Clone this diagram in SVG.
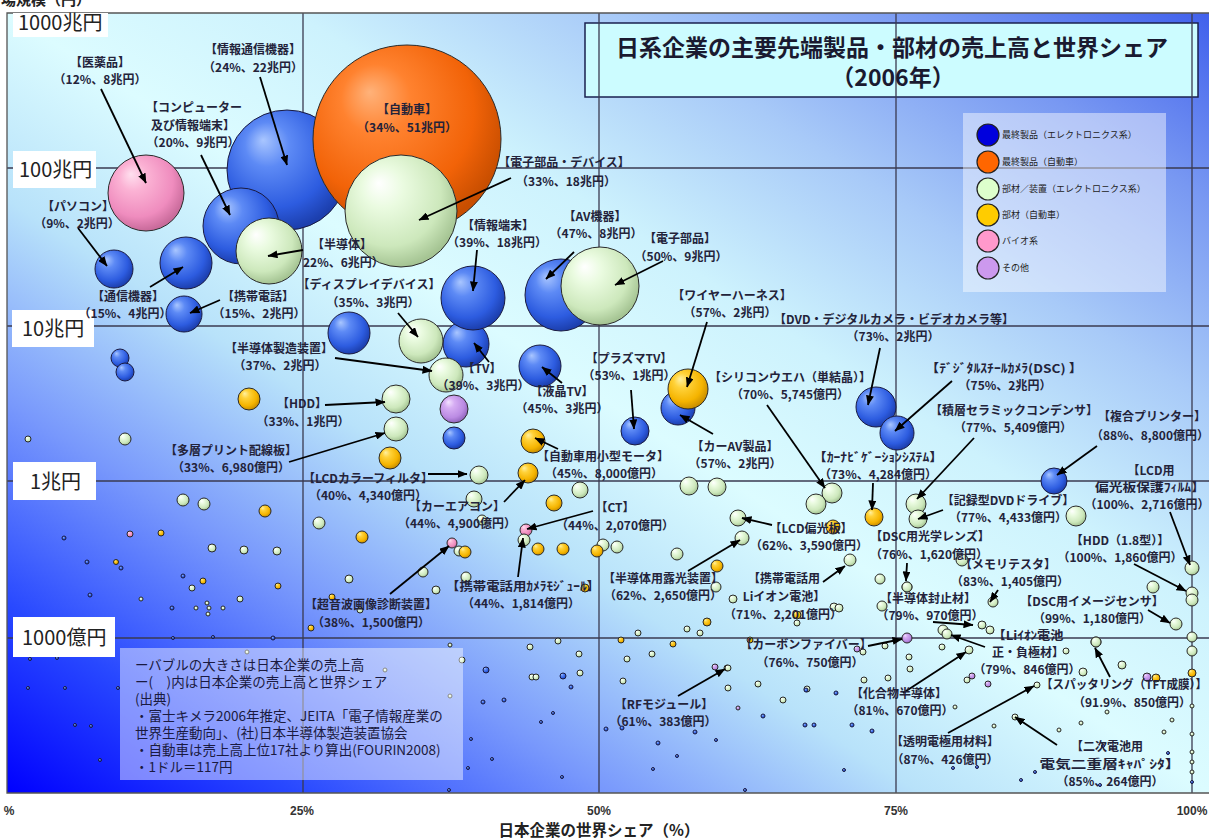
<svg xmlns="http://www.w3.org/2000/svg" width="1209" height="839" viewBox="0 0 1209 839">
<defs>
<linearGradient id="bg" x1="0" y1="1" x2="1" y2="0">
<stop offset="0" stop-color="#0000ff"/>
<stop offset="0.12" stop-color="#2848ff"/>
<stop offset="0.25" stop-color="#7898fc"/>
<stop offset="0.38" stop-color="#b8e2fa"/>
<stop offset="0.5" stop-color="#dcfcff"/>
<stop offset="0.62" stop-color="#cdf2fd"/>
<stop offset="0.75" stop-color="#a8caf8"/>
<stop offset="0.88" stop-color="#7898f2"/>
<stop offset="1" stop-color="#4060ec"/>
</linearGradient>
<radialGradient id="gB" cx="0.42" cy="0.38" r="0.62" fx="0.3" fy="0.25"><stop offset="0" stop-color="#a9c6ff"/><stop offset="0.3" stop-color="#5d8af5"/><stop offset="0.75" stop-color="#2d5ce0"/><stop offset="1" stop-color="#1c3fae"/></radialGradient>
<radialGradient id="gO" cx="0.42" cy="0.38" r="0.62" fx="0.3" fy="0.25"><stop offset="0" stop-color="#ffb27a"/><stop offset="0.3" stop-color="#ff822f"/><stop offset="0.75" stop-color="#f26308"/><stop offset="1" stop-color="#c84e00"/></radialGradient>
<radialGradient id="gG" cx="0.42" cy="0.38" r="0.62" fx="0.3" fy="0.25"><stop offset="0" stop-color="#ffffff"/><stop offset="0.3" stop-color="#eafbe0"/><stop offset="0.75" stop-color="#cde8bc"/><stop offset="1" stop-color="#a5c493"/></radialGradient>
<radialGradient id="gY" cx="0.42" cy="0.38" r="0.62" fx="0.3" fy="0.25"><stop offset="0" stop-color="#fff0a0"/><stop offset="0.3" stop-color="#ffd23a"/><stop offset="0.75" stop-color="#f5b400"/><stop offset="1" stop-color="#c98f00"/></radialGradient>
<radialGradient id="gP" cx="0.42" cy="0.38" r="0.62" fx="0.3" fy="0.25"><stop offset="0" stop-color="#ffe0ef"/><stop offset="0.3" stop-color="#fbb2d4"/><stop offset="0.75" stop-color="#ef8cbe"/><stop offset="1" stop-color="#c86a9a"/></radialGradient>
<radialGradient id="gV" cx="0.42" cy="0.38" r="0.62" fx="0.3" fy="0.25"><stop offset="0" stop-color="#f3e2ff"/><stop offset="0.3" stop-color="#d6adf3"/><stop offset="0.75" stop-color="#bb8be3"/><stop offset="1" stop-color="#9365bf"/></radialGradient>
<marker id="ah" viewBox="0 0 10 8" refX="9.5" refY="4" markerWidth="10" markerHeight="8" markerUnits="userSpaceOnUse" orient="auto"><path d="M0,0 L10,4 L0,8 z" fill="#000"/></marker>
<style>
.b{fill:url(#gB);stroke:#1a1a40;stroke-width:1}
.o{fill:url(#gO);stroke:#2a2a2a;stroke-width:1}
.g{fill:url(#gG);stroke:#2a2a2a;stroke-width:1}
.y{fill:url(#gY);stroke:#2a2a2a;stroke-width:1}
.p{fill:url(#gP);stroke:#2a2a2a;stroke-width:1}
.v{fill:url(#gV);stroke:#2a2a2a;stroke-width:1}
.grid{stroke:#3a3a50;stroke-width:1.3;fill:none}
.ar{stroke:#000;stroke-width:1.8;fill:none;marker-end:url(#ah)}
.lb{font-family:'Noto Sans CJK JP','Noto Sans CJK SC',sans-serif;font-size:12px;font-weight:bold;fill:#23233a;text-anchor:middle}
.st{text-anchor:start}
.ax{font-family:'Noto Sans CJK JP',sans-serif;font-size:20px;fill:#222}
.tk{font-family:'Liberation Sans','Noto Sans CJK JP',sans-serif;font-size:12px;font-weight:bold;fill:#333;text-anchor:middle}
.lg{font-family:'Noto Sans CJK JP',sans-serif;font-size:9px;fill:#222}
.nt{font-family:'Noto Sans CJK JP',sans-serif;font-size:13.5px;fill:#1a1a40}
</style>
</defs>
<rect x="0" y="0" width="1209" height="839" fill="#ffffff"/>
<rect x="7" y="13" width="1202" height="780" fill="url(#bg)"/>
<text x="-14" y="5" font-family="'Noto Sans CJK JP',sans-serif" font-size="15" font-weight="bold" fill="#222">市場規模（円）</text>

<g id="title">
<rect x="585" y="23" width="613" height="74" fill="#ccfcff" stroke="#1a2050" stroke-width="1.5"/>
</g>

<g id="gridlines">
<line class="grid" x1="303" y1="13" x2="303" y2="793"/>
<line class="grid" x1="599" y1="13" x2="599" y2="793"/>
<line class="grid" x1="896" y1="13" x2="896" y2="793"/>
<line class="grid" x1="1192" y1="13" x2="1192" y2="793"/>
<line class="grid" x1="7" y1="168" x2="1209" y2="168"/>
<line class="grid" x1="7" y1="326" x2="1209" y2="326"/>
<line class="grid" x1="7" y1="481" x2="1209" y2="481"/>
<line class="grid" x1="7" y1="638" x2="1209" y2="638"/>
<path d="M1209,13 H7 V793 H1209" stroke="#555" stroke-width="1.3" fill="none"/>
</g>

<g id="small-dots">
<circle class="g" cx="28" cy="439" r="3"/><circle class="g" cx="125" cy="439" r="6"/>
<circle class="g" cx="183" cy="500" r="6"/><circle class="g" cx="204" cy="504" r="6"/><circle class="y" cx="265" cy="511" r="6"/><circle class="g" cx="319" cy="523" r="6"/><circle class="y" cx="362" cy="537" r="6"/>
<circle class="b" cx="64" cy="538" r="2"/><circle class="p" cx="130" cy="534" r="3"/><circle class="y" cx="161" cy="533" r="3"/>
<circle class="g" cx="212" cy="548" r="4"/><circle class="g" cx="244" cy="550" r="4"/><circle class="g" cx="277" cy="551" r="4"/>
<circle class="b" cx="87" cy="562" r="2"/><circle class="y" cx="116" cy="562" r="2.5"/><circle class="b" cx="121" cy="568" r="2"/>
<circle class="b" cx="183" cy="576" r="2"/><circle class="g" cx="192" cy="588" r="3"/><circle class="y" cx="203" cy="581" r="3"/><circle class="y" cx="278" cy="586" r="3"/><circle class="g" cx="240" cy="599" r="3"/>
<circle class="g" cx="207" cy="603" r="2"/><circle class="g" cx="209" cy="608" r="2"/><circle class="g" cx="196" cy="608" r="2"/><circle class="g" cx="208" cy="614" r="2"/><circle class="g" cx="223" cy="608" r="2"/>
<circle class="g" cx="349" cy="579" r="4"/><circle class="y" cx="332" cy="597" r="3"/><circle class="g" cx="360" cy="610" r="3"/><circle class="y" cx="311" cy="628" r="3"/>
<circle class="g" cx="423" cy="572" r="5"/><circle class="g" cx="436" cy="590" r="4"/><circle class="g" cx="466" cy="577" r="5"/>
<circle class="b" cx="90" cy="595" r="2"/><circle class="g" cx="141" cy="599" r="2"/><circle class="b" cx="172" cy="608" r="2"/>
<circle class="b" cx="173" cy="638" r="1.5"/><circle class="b" cx="213" cy="637" r="1.5"/><circle class="b" cx="273" cy="638" r="2"/>
<circle class="b" cx="30" cy="659" r="1.5"/><circle class="b" cx="57" cy="658" r="1.5"/><circle class="b" cx="28" cy="688" r="1.5"/><circle class="b" cx="65" cy="688" r="1.5"/><circle class="b" cx="118" cy="688" r="1.5"/><circle class="b" cx="75" cy="725" r="1.5"/><circle class="b" cx="91" cy="726" r="1.5"/><circle class="b" cx="158" cy="745" r="1.5"/><circle class="b" cx="100" cy="760" r="1.5"/>
<circle class="g" cx="247" cy="652" r="2"/><circle class="g" cx="385" cy="670" r="2"/><circle class="g" cx="450" cy="645" r="2"/>
<circle class="g" cx="530" cy="647" r="3"/><circle class="g" cx="558" cy="641" r="3"/><circle class="g" cx="462" cy="660" r="3"/><circle class="b" cx="486" cy="670" r="3"/><circle class="g" cx="532" cy="677" r="3"/><circle class="g" cx="536" cy="677" r="3"/><circle class="b" cx="563" cy="676" r="3"/><circle class="g" cx="579" cy="654" r="3"/><circle class="g" cx="580" cy="673" r="3"/><circle class="b" cx="571" cy="687" r="2"/><circle class="b" cx="483" cy="702" r="2"/><circle class="b" cx="504" cy="700" r="2"/><circle class="g" cx="450" cy="696" r="2"/><circle class="b" cx="553" cy="713" r="1.5"/><circle class="b" cx="541" cy="722" r="1.5"/><circle class="b" cx="471" cy="739" r="1.5"/><circle class="b" cx="492" cy="759" r="1.5"/><circle class="b" cx="562" cy="777" r="1.5"/><circle class="b" cx="468" cy="768" r="1.5"/><circle class="b" cx="449" cy="790" r="1.5"/>
<circle class="g" cx="627" cy="659" r="3"/><circle class="g" cx="652" cy="654" r="3"/><circle class="g" cx="623" cy="681" r="3"/><circle class="v" cx="715" cy="667" r="3"/><circle class="g" cx="727" cy="668" r="3"/><circle class="g" cx="728" cy="688" r="3"/><circle class="g" cx="758" cy="684" r="3"/><circle class="v" cx="738" cy="708" r="2"/><circle class="b" cx="763" cy="716" r="2"/><circle class="g" cx="783" cy="700" r="3"/><circle class="g" cx="807" cy="689" r="3"/><circle class="b" cx="805" cy="725" r="2"/><circle class="b" cx="606" cy="729" r="2"/><circle class="b" cx="622" cy="728" r="2"/><circle class="b" cx="658" cy="743" r="2"/><circle class="b" cx="695" cy="732" r="2"/><circle class="b" cx="716" cy="740" r="1.5"/><circle class="b" cx="677" cy="756" r="1.5"/><circle class="b" cx="653" cy="769" r="1.5"/><circle class="b" cx="745" cy="790" r="1.5"/>
<circle class="y" cx="707" cy="622" r="4"/><circle class="g" cx="687" cy="629" r="3"/><circle class="g" cx="700" cy="633" r="3"/><circle class="g" cx="638" cy="633" r="3"/><circle class="y" cx="621" cy="640" r="3"/><circle class="y" cx="673" cy="644" r="3"/><circle class="y" cx="750" cy="640" r="3"/>
<circle class="g" cx="677" cy="554" r="6"/><circle class="y" cx="717" cy="566" r="6"/><circle class="g" cx="716" cy="587" r="5"/><circle class="g" cx="733" cy="599" r="4"/><circle class="y" cx="797" cy="615" r="4"/><circle class="g" cx="797" cy="623" r="3"/><circle class="g" cx="834" cy="607" r="4"/><circle class="g" cx="839" cy="608" r="4"/><circle class="g" cx="880" cy="579" r="5"/><circle class="g" cx="907" cy="587" r="5"/><circle class="g" cx="882" cy="606" r="5"/><circle class="g" cx="962" cy="560" r="6"/>
<circle class="g" cx="1153" cy="587" r="6"/><circle class="g" cx="1096" cy="642" r="5"/><circle class="g" cx="1192" cy="637" r="5"/><circle class="g" cx="1192" cy="651" r="5"/>
<circle class="g" cx="942" cy="647" r="3"/><circle class="g" cx="1066" cy="651" r="3"/><circle class="g" cx="885" cy="646" r="3"/><circle class="v" cx="857" cy="649" r="3"/><circle class="g" cx="863" cy="652" r="3"/><circle class="g" cx="909" cy="657" r="3"/><circle class="g" cx="910" cy="669" r="3"/><circle class="g" cx="888" cy="678" r="3"/><circle class="g" cx="864" cy="680" r="3"/><circle class="g" cx="967" cy="680" r="3"/><circle class="v" cx="972" cy="676" r="3"/><circle class="v" cx="988" cy="684" r="3"/><circle class="g" cx="1083" cy="672" r="4"/><circle class="g" cx="1122" cy="665" r="4"/><circle class="v" cx="1147" cy="677" r="4"/><circle class="y" cx="1156" cy="678" r="4"/><circle class="y" cx="1192" cy="673" r="4"/>
<circle class="b" cx="806" cy="690" r="2"/><circle class="b" cx="836" cy="693" r="2"/><circle class="b" cx="814" cy="725" r="2"/><circle class="b" cx="852" cy="725" r="2"/><circle class="b" cx="872" cy="731" r="2"/><circle class="g" cx="955" cy="707" r="2"/><circle class="g" cx="994" cy="726" r="2"/><circle class="g" cx="1059" cy="730" r="2"/><circle class="g" cx="1081" cy="723" r="2"/><circle class="g" cx="1107" cy="712" r="2"/><circle class="g" cx="1172" cy="720" r="2"/><circle class="g" cx="1164" cy="732" r="2"/><circle class="g" cx="1192" cy="706" r="2"/><circle class="g" cx="1192" cy="734" r="2"/><circle class="g" cx="1192" cy="752" r="2"/><circle class="g" cx="1192" cy="762" r="2"/><circle class="g" cx="1192" cy="772" r="2"/><circle class="b" cx="1192" cy="782" r="1.5"/><circle class="b" cx="1168" cy="753" r="1.5"/><circle class="b" cx="1103" cy="746" r="1.5"/><circle class="b" cx="1035" cy="772" r="1.5"/><circle class="b" cx="1021" cy="780" r="1.5"/><circle class="b" cx="1100" cy="785" r="1.5"/><circle class="b" cx="844" cy="770" r="1.5"/><circle class="b" cx="953" cy="768" r="1.5"/><circle class="b" cx="977" cy="767" r="1.5"/>
<circle class="g" cx="474" cy="499" r="8"/><circle class="g" cx="580" cy="490" r="8"/><circle class="g" cx="689" cy="486" r="9"/><circle class="g" cx="717" cy="487" r="9"/><circle class="y" cx="554" cy="503" r="8"/><circle class="g" cx="482" cy="520" r="5"/>
<circle class="y" cx="538" cy="549" r="6"/><circle class="y" cx="563" cy="549" r="6"/><circle class="g" cx="603" cy="545" r="6"/><circle class="y" cx="597" cy="551" r="6"/><circle class="g" cx="617" cy="547" r="6"/>
<circle class="y" cx="585" cy="588" r="4"/>
<circle class="g" cx="1076" cy="516" r="10"/><circle class="y" cx="833" cy="527" r="7"/>
<circle class="v" cx="454" cy="409" r="14"/><circle class="b" cx="454" cy="438" r="11"/><circle class="y" cx="390" cy="458" r="11"/><circle class="y" cx="249" cy="399" r="11"/>
<circle class="b" cx="120" cy="358" r="9"/><circle class="b" cx="125" cy="372" r="9"/>
</g>

<g id="bubbles">
<g id="b-johotsushin"><circle class="b" cx="287" cy="170" r="60"/></g>
<g id="b-jidousha"><circle class="o" cx="407" cy="139" r="94"/></g>
<g id="b-denshidevice"><circle class="g" cx="401" cy="211" r="56"/></g>
<g id="b-iyakuhin"><circle class="p" cx="146" cy="193" r="38"/></g>
<g id="b-computer"><circle class="b" cx="241" cy="226" r="38"/></g>
<g id="b-handoutai"><circle class="g" cx="269" cy="251" r="33"/></g>
<g id="b-pasokon"><circle class="b" cx="114" cy="269" r="19"/></g>
<g id="b-tsushin"><circle class="b" cx="186" cy="263" r="26"/></g>
<g id="b-keitai"><circle class="b" cx="184" cy="314" r="18"/></g>
<g id="b-tv"><circle class="b" cx="466" cy="344" r="23"/></g>
<g id="b-johotanmatsu"><circle class="b" cx="473" cy="298" r="32"/></g>
<g id="b-av"><circle class="b" cx="561" cy="295" r="36"/></g>
<g id="b-denshibuhin"><circle class="g" cx="600" cy="286" r="39"/></g>
<g id="b-blue349"><circle class="b" cx="349" cy="333" r="21"/></g>
<g id="b-display"><circle class="g" cx="421" cy="341" r="22"/></g>
<g id="b-ekisho"><circle class="b" cx="540" cy="366" r="21"/></g>
<g id="b-seizousouchi"><circle class="g" cx="446" cy="375" r="17"/></g>
<g id="b-hdd"><circle class="g" cx="396" cy="399" r="14"/></g>
<g id="b-tasou"><circle class="g" cx="396" cy="429" r="12"/></g>
<g id="b-carav"><circle class="b" cx="678" cy="408" r="17"/></g>
<g id="b-wire"><circle class="y" cx="688" cy="389" r="20"/></g>
<g id="b-plasma"><circle class="b" cx="635" cy="431" r="14"/></g>
<g id="b-motor"><circle class="y" cx="533" cy="441" r="12"/></g>
<g id="b-aircon"><circle class="y" cx="528" cy="473" r="10"/></g>
<g id="b-lcdcf"><circle class="g" cx="479" cy="475" r="9"/></g>
<g id="b-ct"><circle class="p" cx="526" cy="530" r="6"/></g>
<g id="b-camera"><circle class="g" cx="524" cy="540" r="6"/></g>
<g id="b-onpa"><circle class="p" cx="452" cy="543" r="5"/><circle class="g" cx="459" cy="551" r="5"/><circle class="y" cx="465" cy="552" r="6"/></g>
<g id="b-dvd"><circle class="b" cx="876" cy="407" r="20"/></g>
<g id="b-dsc"><circle class="b" cx="897" cy="433" r="17"/></g>
<g id="b-printer"><circle class="b" cx="1054" cy="481" r="13"/></g>
<g id="b-silicon"><circle class="g" cx="832" cy="493" r="10"/><circle class="g" cx="816" cy="504" r="10"/></g>
<g id="b-carnavi"><circle class="y" cx="874" cy="517" r="9"/></g>
<g id="b-sekisou"><circle class="g" cx="916" cy="504" r="10"/></g>
<g id="b-dvddrive"><circle class="g" cx="918" cy="519" r="9"/></g>
<g id="b-lcdhenkou"><circle class="g" cx="738" cy="518" r="8"/></g>
<g id="b-roukou"><circle class="g" cx="742" cy="538" r="7"/></g>
<g id="b-liion-keitai"><circle class="g" cx="850" cy="560" r="6"/></g>
<g id="b-carbon"><circle class="v" cx="907" cy="638" r="5"/></g>
<g id="b-lcdfilm"><circle class="g" cx="1192" cy="568" r="7"/></g>
<g id="b-hdd18"><circle class="g" cx="1192" cy="593" r="6"/><circle class="g" cx="1192" cy="600" r="6"/></g>
<g id="b-dscsensor"><circle class="g" cx="1176" cy="624" r="6"/></g>
<g id="b-memory"><circle class="g" cx="993" cy="602" r="5"/></g>
<g id="b-lens"><circle class="g" cx="907" cy="587" r="5"/></g>
<g id="b-fushi"><circle class="g" cx="982" cy="625" r="4"/><circle class="g" cx="990" cy="630" r="4"/></g>
<g id="b-liion-kyoku"><circle class="g" cx="943" cy="630" r="5"/><circle class="g" cx="947" cy="634" r="5"/></g>
<g id="b-kagoubutsu"><circle class="g" cx="969" cy="650" r="4"/></g>
<g id="b-toumei"><circle class="g" cx="1037" cy="685" r="3"/></g>
<g id="b-niji"><circle class="g" cx="1015" cy="717" r="3"/></g>
<g id="b-sputter"><circle class="g" cx="1096" cy="642" r="5"/></g>
<g id="b-rf"><circle class="g" cx="728" cy="668" r="3"/></g>
</g>

<g id="legend">
<rect x="963" y="113" width="203" height="179" fill="#ffffff" fill-opacity="0.45"/>
<circle cx="988" cy="135" r="11" fill="#0000dd" stroke="#222" stroke-width="1.2"/>
<circle cx="988" cy="162" r="11" fill="#ff6600" stroke="#222" stroke-width="1.2"/>
<circle cx="988" cy="189" r="11" fill="#ddffcc" stroke="#222" stroke-width="1.2"/>
<circle cx="988" cy="215" r="11" fill="#ffcc00" stroke="#222" stroke-width="1.2"/>
<circle cx="988" cy="241" r="11" fill="#ff99cc" stroke="#222" stroke-width="1.2"/>
<circle cx="988" cy="268" r="11" fill="#cc99ee" stroke="#222" stroke-width="1.2"/>
<text class="lg" x="1002" y="138">最終製品（エレクトロニクス系）</text>
<text class="lg" x="1002" y="165">最終製品（自動車）</text>
<text class="lg" x="1002" y="192">部材／装置（エレクトロニクス系）</text>
<text class="lg" x="1002" y="218">部材（自動車）</text>
<text class="lg" x="1002" y="244">バイオ系</text>
<text class="lg" x="1002" y="271">その他</text>
</g>

<g id="note">
<rect x="120" y="648" width="343" height="132" fill="#ffffff" fill-opacity="0.45"/>
<text class="nt" x="135" y="670">ーバブルの大きさは日本企業の売上高</text>
<text class="nt" x="135" y="687">ー(　)内は日本企業の売上高と世界シェア</text>
<text class="nt" x="135" y="704">(出典)</text>
<text class="nt" x="135" y="721">・富士キメラ2006年推定、JEITA「電子情報産業の</text>
<text class="nt" x="135" y="738">世界生産動向」、(社)日本半導体製造装置協会</text>
<text class="nt" x="135" y="755">・自動車は売上高上位17社より算出(FOURIN2008)</text>
<text class="nt" x="135" y="772">・1ドル＝117円</text>
</g>

<g id="axis-labels">
<rect x="13" y="13" width="95" height="24" fill="#fff"/>
<text class="ax" x="18" y="30">1000兆円</text>
<rect x="13" y="151" width="83" height="37" fill="#fff"/>
<text class="ax" x="19" y="177">100兆円</text>
<rect x="12" y="310" width="82" height="37" fill="#fff"/>
<text class="ax" x="22" y="336">10兆円</text>
<rect x="13" y="462" width="83" height="38" fill="#fff"/>
<text class="ax" x="30" y="489">1兆円</text>
<rect x="13" y="617" width="102" height="40" fill="#fff"/>
<text class="ax" x="22" y="645">1000億円</text>
<text class="tk" x="9" y="815">%</text>
<text class="tk" x="302" y="815">25%</text>
<text class="tk" x="599" y="815">50%</text>
<text class="tk" x="896" y="815">75%</text>
<text class="tk" x="1192" y="815">100%</text>
<text x="599" y="836" font-family="'Noto Sans CJK JP',sans-serif" font-size="15.5" font-weight="bold" fill="#222" text-anchor="middle">日本企業の世界シェア（%）</text>
</g>

<g id="title-text" font-family="'Noto Sans CJK JP',sans-serif" font-weight="bold" fill="#1a1a30" text-anchor="middle">
<text x="892" y="56" font-size="23">日系企業の主要先端製品・部材の売上高と世界シェア</text>
<text x="893" y="86" font-size="23">（2006年）</text>
</g>

<g id="connectors">
<line class="ar" x1="101" y1="89" x2="146" y2="183"/>
<line class="ar" x1="260" y1="77" x2="287" y2="165"/>
<line class="ar" x1="201" y1="155" x2="230" y2="215"/>
<line class="ar" x1="78" y1="228" x2="107" y2="266"/>
<line class="ar" x1="303" y1="250" x2="268" y2="256"/>
<line class="ar" x1="150" y1="287" x2="183" y2="267"/>
<line class="ar" x1="220" y1="300" x2="190" y2="313"/>
<line class="ar" x1="511" y1="178" x2="419" y2="220"/>
<line class="ar" x1="477" y1="250" x2="473" y2="291"/>
<line class="ar" x1="574" y1="252" x2="546" y2="279"/>
<line class="ar" x1="663" y1="261" x2="615" y2="285"/>
<line class="ar" x1="398" y1="313" x2="418" y2="337"/>
<line class="ar" x1="335" y1="358" x2="432" y2="371"/>
<line class="ar" x1="489" y1="362" x2="474" y2="343"/>
<line class="ar" x1="562" y1="383" x2="542" y2="367"/>
<line class="ar" x1="631" y1="390" x2="634" y2="429"/>
<line class="ar" x1="707" y1="322" x2="687" y2="387"/>
<line class="ar" x1="713" y1="434" x2="680" y2="415"/>
<line class="ar" x1="558" y1="449" x2="535" y2="438"/>
<line class="ar" x1="504" y1="502" x2="525" y2="480"/>
<line class="ar" x1="428" y1="474" x2="467" y2="474"/>
<line class="ar" x1="593" y1="511" x2="527" y2="529"/>
<line class="ar" x1="390" y1="594" x2="449" y2="546"/>
<line class="ar" x1="518" y1="577" x2="523" y2="538"/>
<line class="ar" x1="688" y1="571" x2="740" y2="540"/>
<line class="ar" x1="772" y1="525" x2="742" y2="518"/>
<line class="ar" x1="823" y1="582" x2="845" y2="566"/>
<line class="ar" x1="868" y1="646" x2="902" y2="639"/>
<line class="ar" x1="767" y1="405" x2="825" y2="488"/>
<line class="ar" x1="880" y1="348" x2="868" y2="405"/>
<line class="ar" x1="952" y1="381" x2="895" y2="431"/>
<line class="ar" x1="974" y1="438" x2="917" y2="499"/>
<line class="ar" x1="1097" y1="446" x2="1057" y2="475"/>
<line class="ar" x1="873" y1="483" x2="872" y2="510"/>
<line class="ar" x1="1170" y1="512" x2="1190" y2="565"/>
<line class="ar" x1="943" y1="510" x2="918" y2="519"/>
<line class="ar" x1="907" y1="563" x2="906" y2="581"/>
<line class="ar" x1="998" y1="590" x2="990" y2="602"/>
<line class="ar" x1="1134" y1="564" x2="1186" y2="591"/>
<line class="ar" x1="1148" y1="610" x2="1170" y2="623"/>
<line class="ar" x1="933" y1="622" x2="973" y2="625"/>
<line class="ar" x1="985" y1="647" x2="951" y2="635"/>
<line class="ar" x1="903" y1="693" x2="966" y2="652"/>
<line class="ar" x1="948" y1="733" x2="1034" y2="686"/>
<line class="ar" x1="1057" y1="745" x2="1015" y2="717"/>
<line class="ar" x1="1110" y1="677" x2="1095" y2="648"/>
<line class="ar" x1="678" y1="696" x2="725" y2="669"/>
<line class="ar" x1="325" y1="405" x2="385" y2="402"/>
<line class="ar" x1="289" y1="462" x2="385" y2="433"/>
</g>

<g id="labels">
<g id="t-iyakuhin"><text class="lb" x="100" y="67">【医薬品】</text><text class="lb" x="100" y="84">（12%、8兆円）</text></g>
<g id="t-johotsushin"><text class="lb" x="253" y="54">【情報通信機器】</text><text class="lb" x="253" y="72">（24%、22兆円）</text></g>
<g id="t-jidousha"><text class="lb" x="407" y="114">【自動車】</text><text class="lb" x="407" y="132">（34%、51兆円）</text></g>
<g id="t-computer"><text class="lb" x="194" y="112">【コンピューター</text><text class="lb" x="193" y="130">及び情報端末】</text><text class="lb" x="193" y="147">（20%、9兆円）</text></g>
<g id="t-pasokon"><text class="lb" x="78" y="211">【パソコン】</text><text class="lb" x="77" y="228">（9%、2兆円）</text></g>
<g id="t-handoutai"><text class="lb" x="342" y="249">【半導体】</text><text class="lb st" x="303" y="267">22%、6兆円）</text></g>
<g id="t-tsushin"><text class="lb" x="128" y="301">【通信機器】</text><text class="lb" x="125" y="318">（15%、4兆円）</text></g>
<g id="t-keitai"><text class="lb" x="258" y="301">【携帯電話】</text><text class="lb" x="259" y="318">（15%、2兆円）</text></g>
<g id="t-denshidevice"><text class="lb" x="564" y="167">【電子部品・デバイス】</text><text class="lb" x="566" y="186">（33%、18兆円）</text></g>
<g id="t-johotanmatsu"><text class="lb" x="498" y="230">【情報端末】</text><text class="lb" x="497" y="247">（39%、18兆円）</text></g>
<g id="t-av"><text class="lb" x="595" y="221">【AV機器】</text><text class="lb" x="596" y="238">（47%、8兆円）</text></g>
<g id="t-denshibuhin"><text class="lb" x="680" y="243">【電子部品】</text><text class="lb" x="681" y="261">（50%、9兆円）</text></g>
<g id="t-display"><text class="lb" x="369" y="289">【ディスプレイデバイス】</text><text class="lb" x="373" y="307">（35%、3兆円）</text></g>
<g id="t-seizousouchi"><text class="lb" x="279" y="353">【半導体製造装置】</text><text class="lb" x="280" y="370">（37%、2兆円）</text></g>
<g id="t-tv"><text class="lb" x="482" y="373">【TV】</text><text class="lb" x="483" y="390">（39%、3兆円）</text></g>
<g id="t-ekisho"><text class="lb" x="562" y="396">【液晶TV】</text><text class="lb" x="562" y="413">（45%、3兆円）</text></g>
<g id="t-plasma"><text class="lb" x="629" y="363">【プラズマTV】</text><text class="lb" x="629" y="380">（53%、1兆円）</text></g>
<g id="t-wire"><text class="lb" x="732" y="300">【ワイヤーハーネス】</text><text class="lb" x="730" y="317">（57%、2兆円）</text></g>
<g id="t-carav"><text class="lb" x="735" y="451">【カーAV製品】</text><text class="lb" x="735" y="468">（57%、2兆円）</text></g>
<g id="t-motor"><text class="lb" x="603" y="461">【自動車用小型モータ】</text><text class="lb" x="604" y="478">（45%、8,000億円）</text></g>
<g id="t-aircon"><text class="lb" x="457" y="511">【カーエアコン】</text><text class="lb" x="457" y="528">（44%、4,900億円）</text></g>
<g id="t-lcdcf"><text class="lb" x="368" y="483">【LCDカラーフィルタ】</text><text class="lb" x="368" y="500">（40%、4,340億円）</text></g>
<g id="t-ct"><text class="lb" x="615" y="512">【CT】</text><text class="lb" x="615" y="530">（44%、2,070億円）</text></g>
<g id="t-onpa"><text class="lb" x="371" y="609">【超音波画像診断装置】</text><text class="lb" x="371" y="627">（38%、1,500億円）</text></g>
<g id="t-camera"><text class="lb" x="523" y="591" textLength="154" lengthAdjust="spacingAndGlyphs">【携帯電話用ｶﾒﾗﾓｼﾞｭｰﾙ】</text><text class="lb" x="521" y="608">（44%、1,814億円）</text></g>
<g id="t-roukou"><text class="lb" x="663" y="583">【半導体用露光装置】</text><text class="lb" x="663" y="600">（62%、2,650億円）</text></g>
<g id="t-lcdhenkou"><text class="lb" x="811" y="533">【LCD偏光板】</text><text class="lb" x="809" y="550">（62%、3,590億円）</text></g>
<g id="t-liion-keitai"><text class="lb" x="784" y="583">【携帯電話用</text><text class="lb" x="784" y="601">Liイオン電池】</text><text class="lb" x="783" y="619">（71%、2,201億円）</text></g>
<g id="t-carbon"><text class="lb" x="806" y="649">【カーボンファイバー】</text><text class="lb" x="810" y="667">（76%、750億円）</text></g>
<g id="t-silicon"><text class="lb" x="790" y="382">【シリコンウエハ（単結晶）】</text><text class="lb" x="790" y="399">（70%、5,745億円）</text></g>
<g id="t-dvd"><text class="lb" x="894" y="324">【DVD・デジタルカメラ・ビデオカメラ等】</text><text class="lb" x="893" y="341">（73%、2兆円）</text></g>
<g id="t-dsc"><text class="lb" x="1004" y="373" textLength="157" lengthAdjust="spacingAndGlyphs">【ﾃﾞｼﾞﾀﾙｽﾁｰﾙｶﾒﾗ(DSC) 】</text><text class="lb" x="1005" y="390">（75%、2兆円）</text></g>
<g id="t-sekisou"><text class="lb" x="1014" y="415">【積層セラミックコンデンサ】</text><text class="lb" x="1013" y="432">（77%、5,409億円）</text></g>
<g id="t-printer"><text class="lb" x="1152" y="421">【複合プリンター】</text><text class="lb" x="1150" y="440">（88%、8,800億円）</text></g>
<g id="t-carnavi"><text class="lb" x="878" y="462" textLength="130" lengthAdjust="spacingAndGlyphs">【ｶｰﾅﾋﾞｹﾞｰｼｮﾝｼｽﾃﾑ】</text><text class="lb" x="878" y="479">（73%、4,284億円）</text></g>
<g id="t-lcdfilm"><text class="lb" x="1151" y="475">【LCD用</text><text class="lb" x="1150" y="492" textLength="110" lengthAdjust="spacingAndGlyphs">偏光板保護ﾌｨﾙﾑ】</text><text class="lb" x="1147" y="509">（100%、2,716億円）</text></g>
<g id="t-dvddrive"><text class="lb" x="1008" y="505">【記録型DVDドライブ】</text><text class="lb" x="1008" y="522">（77%、4,433億円）</text></g>
<g id="t-lens"><text class="lb" x="930" y="541">【DSC用光学レンズ】</text><text class="lb" x="929" y="559">（76%、1,620億円）</text></g>
<g id="t-memory"><text class="lb" x="1008" y="569">【メモリテスタ】</text><text class="lb" x="1010" y="586">（83%、1,405億円）</text></g>
<g id="t-hdd18"><text class="lb" x="1120" y="545">【HDD（1.8型）】</text><text class="lb" x="1120" y="562">（100%、1,860億円）</text></g>
<g id="t-dscsensor"><text class="lb" x="1092" y="606">【DSC用イメージセンサ】</text><text class="lb" x="1092" y="623">（99%、1,180億円）</text></g>
<g id="t-fushi"><text class="lb" x="928" y="603">【半導体封止材】</text><text class="lb" x="930" y="620">（79%、970億円）</text></g>
<g id="t-liion-kyoku"><text class="lb" x="1028" y="640" textLength="71" lengthAdjust="spacingAndGlyphs">【Liｲｵﾝ電池</text><text class="lb" x="1028" y="657">正・負極材】</text><text class="lb" x="1027" y="674">（79%、846億円）</text></g>
<g id="t-kagoubutsu"><text class="lb" x="899" y="698">【化合物半導体】</text><text class="lb" x="900" y="715">（81%、670億円）</text></g>
<g id="t-toumei"><text class="lb" x="945" y="746">【透明電極用材料】</text><text class="lb" x="945" y="764">（87%、426億円）</text></g>
<g id="t-niji"><text class="lb" x="1107" y="751">【二次電池用</text><text class="lb" x="1110" y="769" textLength="141" lengthAdjust="spacingAndGlyphs">電気二重層ｷｬﾊﾟｼﾀ】</text><text class="lb" x="1110" y="786">（85%、264億円）</text></g>
<g id="t-sputter"><text class="lb" x="1124" y="689" textLength="166" lengthAdjust="spacingAndGlyphs">【スパッタリング（TFT成膜）】</text><text class="lb" x="1132" y="707">（91.9%、850億円）</text></g>
<g id="t-rf"><text class="lb" x="664" y="709">【RFモジュール】</text><text class="lb" x="663" y="726">（61%、383億円）</text></g>
<g id="t-hdd"><text class="lb" x="302" y="408">【HDD】</text><text class="lb" x="303" y="426">（33%、1兆円）</text></g>
<g id="t-tasou"><text class="lb" x="231" y="455">【多層プリント配線板】</text><text class="lb" x="231" y="472">（33%、6,980億円）</text></g>
</g>
</svg>
